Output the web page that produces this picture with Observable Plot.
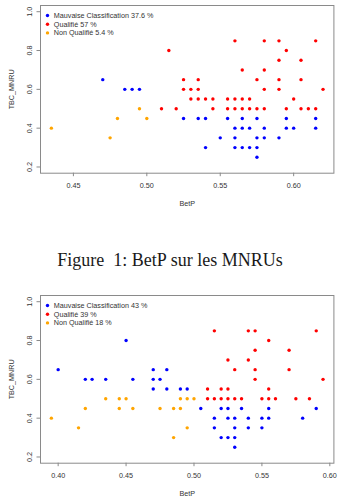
<!DOCTYPE html>
<html>
<head>
<meta charset="utf-8">
<script src="https://cdn.jsdelivr.net/npm/d3@7"></script>
<script src="https://cdn.jsdelivr.net/npm/@observablehq/plot@0.6"></script>
<style>
  html, body { margin: 0; padding: 0; background: #fff; }
  #wrap { width: 340px; height: 501px; overflow: hidden; position: relative; }
  .cap { width: 340px; height: 40px; line-height: 40px; text-align: center;
         font-family: "Liberation Serif", "Times New Roman", serif; font-size: 18px; color: #1a1a1a; white-space: pre; }
  svg { display: block; }
</style>
</head>
<body>
<div id="wrap"></div>
<script>
// ---- Data (BetP, TBC_MNRU) ----
const classes = ["Mauvaise Classification", "Qualifié", "Non Qualifié"];
const classColors = ["#0000ff", "#ff0000", "#ffa500"];

// Figure 1
const fig1Mauvaise = [
  [0.47,0.65],[0.485,0.6],[0.49,0.6],[0.495,0.6],
  [0.525,0.45],[0.535,0.45],[0.54,0.45],[0.555,0.45],[0.565,0.45],[0.575,0.45],[0.595,0.45],[0.615,0.45],
  [0.56,0.4],[0.565,0.4],[0.57,0.4],[0.58,0.4],[0.595,0.4],[0.60,0.4],[0.615,0.4],
  [0.55,0.35],[0.56,0.35],[0.575,0.35],[0.58,0.35],[0.59,0.35],
  [0.54,0.3],[0.56,0.3],[0.565,0.3],[0.57,0.3],[0.575,0.3],
  [0.575,0.25]
];
const fig1Qualifie = [
  [0.56,0.85],[0.58,0.85],[0.59,0.85],[0.615,0.85],
  [0.515,0.8],[0.595,0.8],
  [0.59,0.75],[0.605,0.75],
  [0.565,0.7],[0.58,0.7],
  [0.525,0.65],[0.535,0.65],[0.575,0.65],[0.59,0.65],[0.605,0.65],
  [0.525,0.6],[0.53,0.6],[0.535,0.6],[0.58,0.6],[0.59,0.6],[0.62,0.6],
  [0.53,0.55],[0.535,0.55],[0.54,0.55],[0.545,0.55],[0.555,0.55],[0.56,0.55],[0.565,0.55],[0.57,0.55],[0.60,0.55],
  [0.51,0.5],[0.52,0.5],[0.545,0.5],[0.555,0.5],[0.56,0.5],[0.565,0.5],[0.57,0.5],[0.575,0.5],[0.58,0.5],[0.595,0.5],[0.605,0.5],[0.61,0.5],[0.615,0.5]
];
const fig1NonQualifie = [
  [0.495,0.5],[0.48,0.45],[0.50,0.45],[0.435,0.4],[0.475,0.35]
];
const fig1Legend = ["Mauvaise Classification 37.6 %", "Qualifié 57 %", "Non Qualifié 5.4 %"];
const fig1XTicks = [0.45, 0.50, 0.55, 0.60];

// Figure 2
const fig2Mauvaise = [
  [0.45,0.8],
  [0.40,0.65],[0.47,0.65],[0.48,0.65],
  [0.42,0.6],[0.425,0.6],[0.435,0.6],[0.455,0.6],[0.47,0.6],[0.475,0.6],
  [0.47,0.55],[0.48,0.55],[0.49,0.55],[0.495,0.55],
  [0.505,0.45],[0.52,0.45],[0.525,0.45],[0.535,0.45],[0.555,0.45],[0.59,0.45],
  [0.515,0.4],[0.525,0.4],[0.53,0.4],[0.54,0.4],[0.55,0.4],[0.555,0.4],[0.58,0.4],
  [0.515,0.35],[0.53,0.35],[0.54,0.35],[0.55,0.35],
  [0.52,0.3],[0.525,0.3],[0.53,0.3],
  [0.53,0.25]
];
const fig2Qualifie = [
  [0.515,0.85],[0.54,0.85],[0.545,0.85],[0.59,0.85],
  [0.555,0.8],
  [0.545,0.75],[0.57,0.75],
  [0.525,0.7],[0.54,0.7],
  [0.53,0.65],[0.545,0.65],[0.57,0.65],
  [0.545,0.6],[0.595,0.6],
  [0.51,0.55],[0.52,0.55],[0.525,0.55],[0.555,0.55],
  [0.51,0.5],[0.515,0.5],[0.52,0.5],[0.525,0.5],[0.53,0.5],[0.535,0.5],[0.55,0.5],[0.555,0.5],[0.56,0.5],[0.575,0.5],[0.585,0.5]
];
const fig2NonQualifie = [
  [0.435,0.5],[0.445,0.5],[0.45,0.5],[0.49,0.5],[0.495,0.5],[0.50,0.5],
  [0.42,0.45],[0.445,0.45],[0.455,0.45],[0.475,0.45],[0.485,0.45],[0.49,0.45],
  [0.395,0.4],
  [0.415,0.35],[0.495,0.35],
  [0.485,0.3]
];
const fig2Legend = ["Mauvaise Classification 43 %", "Qualifié 39 %", "Non Qualifié 18 %"];
const fig2XTicks = [0.40, 0.45, 0.50, 0.55, 0.60];

const yTicks = [0.2, 0.4, 0.6, 0.8, 1.0];
const xLabel = "BetP";
const yLabel = "TBC_MNRU";
const caption1 = "Figure  1: BetP sur les MNRUs";

// ---- helpers ----
const FONT = "Liberation Sans, Arial, Helvetica, sans-serif";
const TXT = "#333333";
const LINE = "#8a8a8a";

function toRows(groups) {
  const rows = [];
  groups.forEach((g, i) => g.forEach(([b, t]) => rows.push({betp: b, tbc: t, cls: classes[i]})));
  return rows;
}

// R-style 4% axis expansion of the data range
function expand(lo, hi) { const d = (hi - lo) * 0.04; return [lo - d, hi + d]; }

function chart({groups, legend, xTicks, height, marginTop, marginBottom}) {
  const data = toRows(groups);
  const xd = expand(d3.min(data, d => d.betp), d3.max(data, d => d.betp));
  const yd = expand(0.2, 1.0);
  const legendMarks = legend.flatMap((lab, i) => [
    Plot.dot([lab], {frameAnchor: "top-left", dx: 7, dy: 10 + i * 8.7, r: 1.7, fill: classColors[i], stroke: "none"}),
    Plot.text([lab], {frameAnchor: "top-left", dx: 13.3, dy: 10 + i * 8.7, text: d => d, fill: TXT,
      fontSize: 7.2, textAnchor: "start", lineAnchor: "middle"})
  ]);
  return Plot.plot({
    width: 340,
    height,
    marginLeft: 40,
    marginRight: 6.6,
    marginTop,
    marginBottom,
    style: {fontFamily: FONT, fontSize: "7.2px", background: "#fff", color: TXT, overflow: "visible"},
    x: {domain: xd},
    y: {domain: yd},
    color: {domain: classes, range: classColors},
    marks: [
      Plot.frame({stroke: LINE, strokeWidth: 1}),
      Plot.axisX({ticks: xTicks, tickFormat: d3.format(".2f"), tickSize: 3.5, tickPadding: 6.3,
        stroke: LINE, fill: TXT, fontSize: 7.2, label: null}),
      Plot.axisY({ticks: yTicks, tickFormat: d3.format(".1f"), tickSize: 3.5, tickPadding: 5,
        tickRotate: -90, stroke: LINE, fill: TXT, fontSize: 7.2, label: null}),
      Plot.text([xLabel], {frameAnchor: "bottom", dy: 30.7, text: d => d, fill: TXT, fontSize: 7.2,
        lineAnchor: "middle", textAnchor: "middle"}),
      Plot.text([yLabel], {frameAnchor: "left", dx: -28.5, rotate: -90, text: d => d, fill: TXT, fontSize: 7.2,
        lineAnchor: "middle", textAnchor: "middle"}),
      Plot.dot(data, {x: "betp", y: "tbc", fill: "cls", r: 1.7, stroke: "none"}),
      ...legendMarks
    ]
  });
}

const wrap = document.getElementById("wrap");
wrap.append(chart({groups: [fig1Mauvaise, fig1Qualifie, fig1NonQualifie], legend: fig1Legend, xTicks: fig1XTicks,
  height: 240, marginTop: 5, marginBottom: 67.3}));
const cap = document.createElement("div");
cap.className = "cap";
cap.textContent = caption1;
wrap.append(cap);
wrap.append(chart({groups: [fig2Mauvaise, fig2Qualifie, fig2NonQualifie], legend: fig2Legend, xTicks: fig2XTicks,
  height: 221, marginTop: 15, marginBottom: 38.3}));
</script>
</body>
</html>
